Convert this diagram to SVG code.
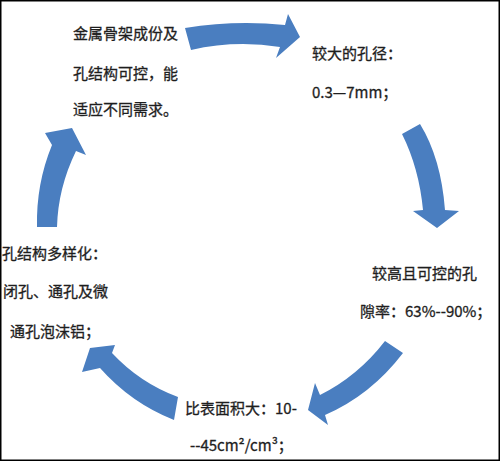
<svg xmlns="http://www.w3.org/2000/svg" width="500" height="461" viewBox="0 0 500 461">
<style>
.t{font-family:"Noto Sans CJK SC","Noto Sans",sans-serif;font-size:15px;fill:#1e1e1e;stroke:#1e1e1e;stroke-width:0.3}
.a{fill:#4a7ec0}
</style>
<rect x="0" y="0" width="500" height="461" fill="#fff"/>
<g id="connectors">
<path class="a" d="M185,28 Q235,20 285,25 L288,14 L300,37 L276,58 L280,47 Q235,40 191,50 Z"/>
<path class="a" d="M402,134 L420,124 Q441,158 445,210 L459,211 L437,228 L413,211 L423,210 Q419,168 402,134 Z"/>
<path class="a" d="M385,341 L403,353 Q371,395 325,415 L328,425 L308,410 L315,383 L320,395 Q358,376 385,341 Z"/>
<path class="a" d="M115,345 L112,353 Q140,383 178,397 L174,420 Q131,403 100,368 L82,372 L90,348 Z"/>
<path class="a" d="M37,227 Q36,184 52,145 L45,133 L72,128 L86,155 L76,151 Q58,188 57,227 Z"/>
</g>
<g id="node-top">
<text class="t" x="73" y="39">金属骨架成份及</text>
<text class="t" x="73" y="79">孔结构可控，能</text>
<text class="t" x="73" y="115">适应不同需求。</text>
</g>
<g id="node-topright">
<text class="t" x="312" y="59">较大的孔径：</text>
<text class="t" x="312" y="97.5">0.3—7mm；</text>
</g>
<g id="node-right">
<text class="t" x="372" y="279">较高且可控的孔</text>
<text class="t" x="360" y="317">隙率：63%--90%；</text>
</g>
<g id="node-bottom">
<text class="t" x="185" y="414">比表面积大：10-</text>
<text class="t" x="190" y="451">--45cm²/cm³；</text>
</g>
<g id="node-left">
<text class="t" x="2" y="259">孔结构多样化：</text>
<text class="t" x="3" y="297">闭孔、通孔及微</text>
<text class="t" x="10" y="337">通孔泡沫铝；</text>
</g>
<rect x="0.75" y="0.75" width="498.5" height="459.5" fill="none" stroke="#000" stroke-width="1.5"/>
</svg>
